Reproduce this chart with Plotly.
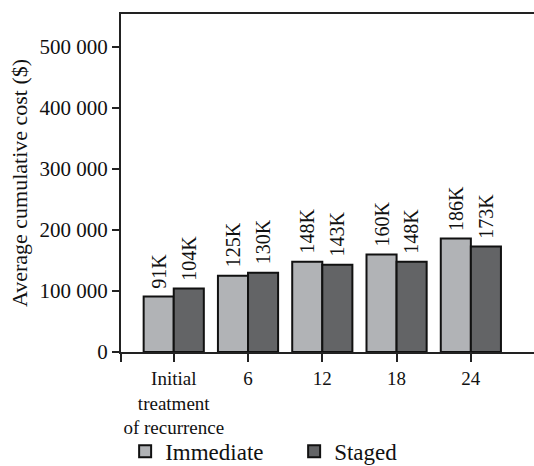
import plotly.graph_objects as go

categories = ["Initial<br>treatment<br>of recurrence", "6", "12", "18", "24"]
immediate = [91000, 125000, 148000, 160000, 186000]
staged = [104000, 130000, 143000, 148000, 173000]
immediate_labels = ["91K", "125K", "148K", "160K", "186K"]
staged_labels = ["104K", "130K", "143K", "148K", "173K"]
y_ticks = [0, 100000, 200000, 300000, 400000, 500000]
y_tick_text = ["0", "100 000", "200 000", "300 000", "400 000", "500 000"]

FONT = "Liberation Serif, Times New Roman, serif"
xpos = list(range(len(categories)))

fig = go.Figure()
fig.add_trace(go.Bar(x=xpos, y=immediate, name="Immediate",
                     marker=dict(color="#b1b3b6", line=dict(color="#111111", width=2))))
fig.add_trace(go.Bar(x=xpos, y=staged, name="Staged",
                     marker=dict(color="#636466", line=dict(color="#111111", width=2))))

for i in xpos:
    fig.add_annotation(x=i, y=immediate[i], text=immediate_labels[i], textangle=-90,
                       xshift=-15, yshift=6, yanchor="bottom", showarrow=False,
                       font=dict(family=FONT, size=20, color="#111111"))
    fig.add_annotation(x=i, y=staged[i], text=staged_labels[i], textangle=-90,
                       xshift=15, yshift=6, yanchor="bottom", showarrow=False,
                       font=dict(family=FONT, size=20, color="#111111"))

fig.update_layout(
    width=534, height=466,
    margin=dict(l=121, r=0, t=14, b=114, autoexpand=False),
    paper_bgcolor="white", plot_bgcolor="white",
    barmode="group", bargap=0.19, bargroupgap=0,
    font=dict(family=FONT, size=21, color="#111111"),
    showlegend=True,
    legend=dict(orientation="h", x=0.01, xanchor="left", y=-0.294, yanchor="middle",
                font=dict(family=FONT, size=23, color="#111111"),
                bgcolor="rgba(0,0,0,0)", entrywidth=124, entrywidthmode="pixels",
                itemwidth=30, traceorder="normal"),
    xaxis=dict(range=[-0.71, 4.85], tickmode="array",
               tickvals=[-0.71] + xpos, ticktext=[""] + categories,
               showline=True, linecolor="#222222", linewidth=2, mirror=True,
               ticks="outside", ticklen=8, tickwidth=2, tickcolor="#222222",
               showgrid=False, zeroline=False, tickangle=0, automargin=False,
               tickfont=dict(family=FONT, size=19)),
    yaxis=dict(range=[0, 554000], tickmode="array", tickvals=y_ticks, ticktext=y_tick_text,
               showline=True, linecolor="#222222", linewidth=2,
               ticks="outside", ticklen=7, tickwidth=2, tickcolor="#222222",
               showgrid=False, zeroline=False, automargin=False,
               title=dict(text="Average cumulative cost ($)", font=dict(family=FONT, size=22), standoff=6)),
)

fig.write_html("out.html", config={"displayModeBar": False},
               post_script="document.body.style.margin='0';")
